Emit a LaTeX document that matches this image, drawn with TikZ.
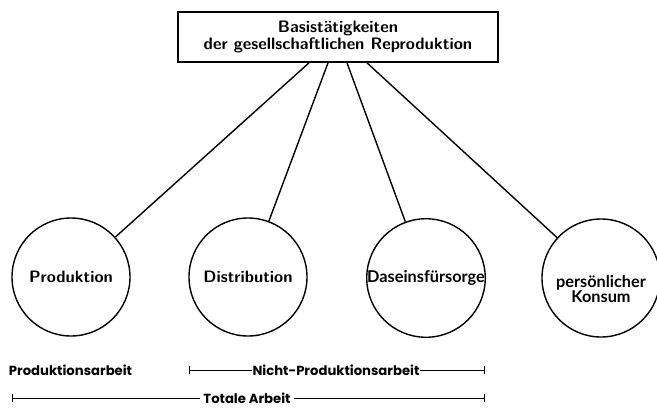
\documentclass[tikz,border=0pt]{standalone}
\usepackage{fontspec}
\usetikzlibrary{arrows.meta}
\newfontfamily\latofont{Lato}
\newfontfamily\popfont{Poppins}
\begin{document}
\begin{tikzpicture}[x=1pt,y=-1pt,
  topbox/.style={draw,line width=1.7pt,minimum width=320pt,minimum height=50pt,align=center,inner sep=0pt,
    font=\sffamily\bfseries\fontsize{16.6}{17.5}\selectfont},
  circ/.style={draw,circle,line width=1.4pt,minimum size=118pt,inner sep=0pt,align=center,
    font=\sffamily\bfseries\fontsize{16.5}{18}\selectfont},
  latotext/.style={font=\latofont\bfseries\fontsize{16.3}{17}\selectfont},
  link/.style={line width=1.4pt},
  lab/.style={font=\popfont\bfseries\fontsize{13.2}{15}\selectfont,inner sep=0.5pt,fill=white},
  bar/.style={line width=0.9pt,{Bar[width=8pt]}-{Bar[width=8pt]}}]
\useasboundingbox (0,0) rectangle (657,408);
\node[topbox] (top) at (338,37) {Basistätigkeiten\\der gesellschaftlichen Reproduktion};
\node[circ] (p) at (71,277) {Produktion};
\node[circ] (d) at (248,277) {Distribution};
\node[circ,latotext] (s) at (426,278) {Daseinsfürsorge};
\node[circ] (k) at (601,278) {};
\node[latotext,align=center,inner sep=0pt] (kt) at (601,289) {persönlicher\\[-2pt]Konsum};
\draw[link] ([xshift=-29pt]top.south) -- (p);
\draw[link] ([xshift=-10pt]top.south) -- (d);
\draw[link] ([xshift=9pt]top.south) -- (s);
\draw[link] ([xshift=29pt]top.south) -- (k);
\node[lab] (pa) at (70.5,370) {Produktionsarbeit};
\coordinate (n1) at (189,370);
\coordinate (n2) at (485,370);
\draw[bar] (n1) -- (n2);
\node[lab] (na) at (336,370) {Nicht-Produktionsarbeit};
\coordinate (t1) at (12,398);
\coordinate (t2) at (485,398);
\draw[bar] (t1) -- (t2);
\node[lab,inner xsep=3pt] (ta) at (247,398) {Totale Arbeit};
\end{tikzpicture}
\end{document}
